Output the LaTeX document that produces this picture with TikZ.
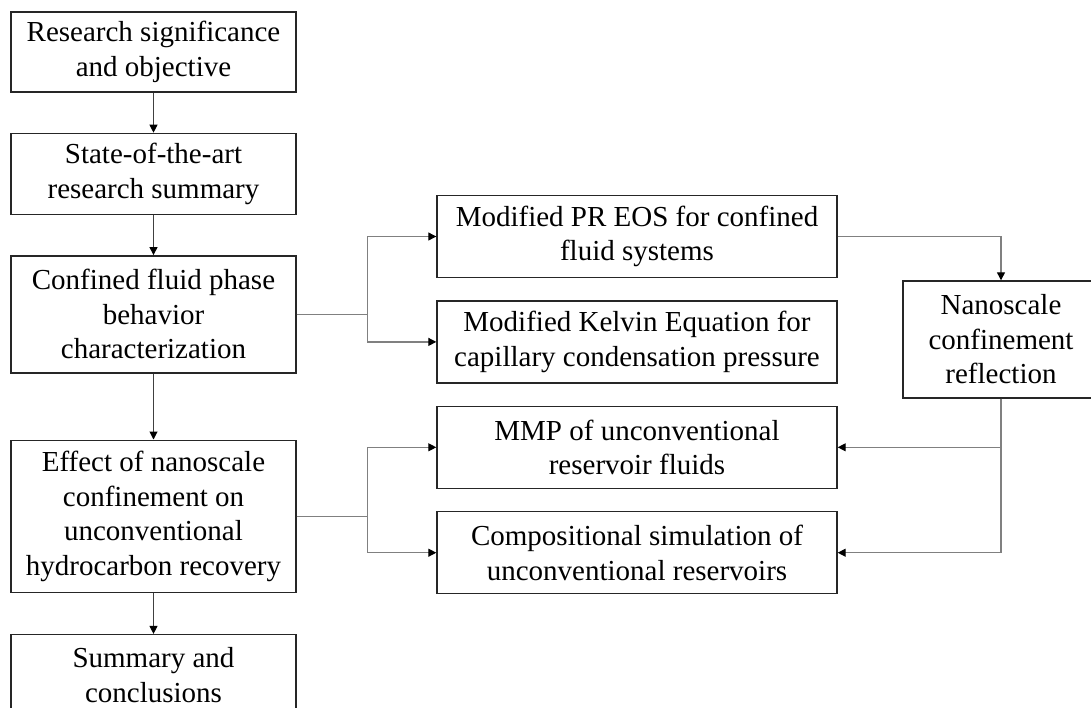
\documentclass[tikz,border=0pt]{standalone}
\usepackage{fontspec}
\setmainfont{Liberation Serif}
\usetikzlibrary{arrows.meta,positioning}

\begin{document}
\begin{tikzpicture}[x=0.5pt, y=-0.5pt,
    >={Triangle[length=4pt,width=4pt,color=black]},
    box/.style={draw=black!85, line width=0.7pt, minimum width=142.5pt,
      align=center, inner sep=2pt, font=\fontsize{14.5}{17.25}\selectfont},
    taskbox/.style={box, minimum width=200pt, minimum height=41pt},
    link/.style={->, draw=black!75, line width=0.5pt},
    branch/.style={->, draw=gray, line width=0.6pt}]
\useasboundingbox (0,0) rectangle (1091,707);

% main chapters
\node[box, minimum height=40pt] (motiv) at (153.5,52) {Research significance\\and objective};
\node[box, minimum height=40.5pt, below=20pt of motiv] (review) {State-of-the-art\\research summary};
\node[box, minimum height=58.5pt, below=20pt of review] (phase) {Confined fluid phase\\behavior\\characterization};
\node[box, minimum height=76pt, below=33pt of phase] (recov) {Effect of nanoscale\\confinement on\\unconventional\\hydrocarbon recovery};
\node[box, minimum height=40.5pt, below=20.5pt of recov] (concl) {Summary and\\conclusions};

% sub-topics
\node[taskbox] (eos) at (637,236.5) {Modified PR EOS for confined\\fluid systems};
\node[taskbox, below=11pt of eos] (kelvin) {Modified Kelvin Equation for\\capillary condensation pressure};
\node[taskbox, below=11pt of kelvin] (mmp) {MMP of unconventional\\reservoir fluids};
\node[taskbox, below=11pt of mmp] (sim) {Compositional simulation of\\unconventional reservoirs};
\node[box, minimum width=98pt, minimum height=58.5pt] (refl) at (1001,339.5) {Nanoscale\\confinement\\reflection};

\draw[link] (motiv) -- (review);
\draw[link] (review) -- (phase);
\draw[link] (phase) -- (recov);
\draw[link] (recov) -- (concl);

\draw[branch] (phase.east) -- ++(35.5pt,0) |- (eos.west);
\draw[branch] (phase.east) -- ++(35.5pt,0) |- (kelvin.west);
\draw[branch] (recov.east) -- ++(35.5pt,0) |- (mmp.west);
\draw[branch] (recov.east) -- ++(35.5pt,0) |- (sim.west);
\draw[branch] (eos.east) -| (refl.north);
\draw[branch] (refl.south) |- (mmp.east);
\draw[branch] (refl.south) |- (sim.east);
\end{tikzpicture}
\end{document}
